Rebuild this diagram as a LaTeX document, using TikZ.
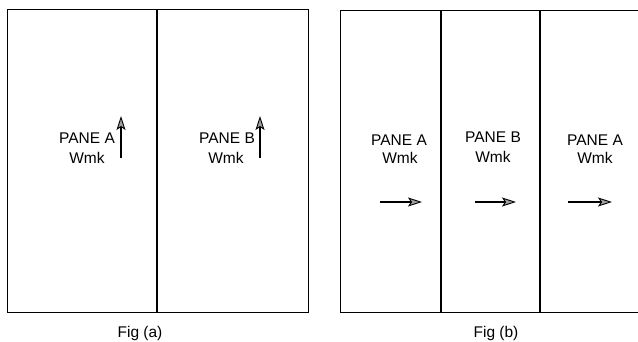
\documentclass[tikz,border=0pt]{standalone}
\usepackage{fontspec}
\setmainfont{Liberation Sans}
\usetikzlibrary{arrows.meta}

\tikzset{
  frame/.style={line width=0.9pt},
  divider/.style={line width=1.3pt},
  label/.style={font=\fontsize{15.5}{17}\selectfont, inner sep=0pt},
  dir/.style={line width=1.3pt, -{Stealth[length=14pt,width=9pt,inset=3pt,line width=0.9pt,fill=gray!75]}}
}

\begin{document}
\begin{tikzpicture}[x=1pt,y=-1pt]
    \useasboundingbox (0,0) rectangle (638,341);
    % Definitions:
    \coordinate (aTL) at (7,9);   \coordinate (aBR) at (308,312); % Fig (a) frame.
    \coordinate (aT) at (157,9);  \coordinate (aB) at (157,312);
    \coordinate (bTL) at (340,10); \coordinate (bBR) at (639,312); % Fig (b) frame.
    \coordinate (b1T) at (441,10); \coordinate (b1B) at (441,312);
    \coordinate (b2T) at (540,10); \coordinate (b2B) at (540,312);
    \coordinate (aA0) at (121,158); \coordinate (aA1) at (121,116);
    \coordinate (aB0) at (260,158); \coordinate (aB1) at (260,116);
    \coordinate (bA0) at (380,202); \coordinate (bA1) at (422,202);
    \coordinate (bB0) at (475,202); \coordinate (bB1) at (516,202);
    \coordinate (bC0) at (568,202); \coordinate (bC1) at (612,202);
    % Drawing:
    \draw[frame] (aTL) rectangle (aBR);
    \draw[divider] (aT) -- (aB);
    \draw[frame] (bTL) rectangle (bBR);
    \draw[divider] (b1T) -- (b1B);
    \draw[divider] (b2T) -- (b2B);
    \draw[dir] (aA0) -- (aA1);
    \draw[dir] (aB0) -- (aB1);
    \draw[dir] (bA0) -- (bA1);
    \draw[dir] (bB0) -- (bB1);
    \draw[dir] (bC0) -- (bC1);
    % Labels:
    \node[label] (paneA) at (87,138) {PANE A};
    \node[label] (wmkA) at (87,158) {Wmk};
    \node[label] (paneB) at (227,138) {PANE B};
    \node[label] (wmkB) at (226,158) {Wmk};
    \node[label] (paneA1) at (399,140) {PANE A};
    \node[label] (wmkA1) at (400,158) {Wmk};
    \node[label] (paneB1) at (493,137) {PANE B};
    \node[label] (wmkB1) at (493,157) {Wmk};
    \node[label] (paneA2) at (595,140) {PANE A};
    \node[label] (wmkA2) at (595,158) {Wmk};
    \node[label] (figA) at (140,333) {Fig (a)};
    \node[label] (figB) at (496,333) {Fig (b)};
\end{tikzpicture}
\end{document}
